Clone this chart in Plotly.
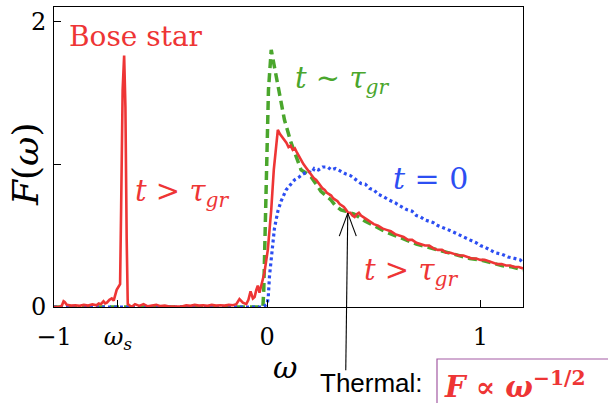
import plotly.graph_objects as go

# ---------------- data ----------------
red_w = [-1.0, -0.975, -0.963, -0.955, -0.95, -0.94, -0.92, -0.90, -0.88, -0.86, -0.84, -0.82,
         -0.80, -0.79, -0.78, -0.768, -0.76, -0.752, -0.74, -0.729, -0.72, -0.712, -0.706, -0.698,
         -0.69, -0.685, -0.678, -0.671, -0.665, -0.659, -0.654, -0.645, -0.636, -0.62, -0.60,
         -0.58, -0.56, -0.54, -0.52, -0.50, -0.48, -0.46, -0.44, -0.42, -0.40, -0.38, -0.36,
         -0.34, -0.32, -0.30, -0.28, -0.26, -0.24, -0.22, -0.20, -0.18, -0.16, -0.145, -0.13,
         -0.114, -0.098, -0.088, -0.078, -0.067, -0.059, -0.051, -0.044, -0.036, -0.028, -0.013,
         0.003, 0.019, 0.031, 0.042, 0.05, 0.06, 0.07, 0.08, 0.09, 0.10, 0.11, 0.12, 0.13, 0.14,
         0.15, 0.16, 0.17, 0.18, 0.19, 0.20, 0.21, 0.22, 0.23, 0.24, 0.25, 0.26, 0.27, 0.28, 0.29,
         0.30, 0.31, 0.32, 0.33, 0.34, 0.35, 0.36, 0.37, 0.38, 0.39, 0.40, 0.41, 0.42, 0.43, 0.44,
         0.46, 0.48, 0.50, 0.52, 0.54, 0.56, 0.58, 0.60, 0.62, 0.64, 0.66, 0.68, 0.70, 0.72, 0.74,
         0.76, 0.78, 0.80, 0.82, 0.84, 0.86, 0.88, 0.90, 0.92, 0.94, 0.96, 0.98, 1.00, 1.02, 1.04,
         1.06, 1.08, 1.10, 1.12, 1.14, 1.16, 1.18, 1.20]
red_F = [0.0, 0.0, 0.01, 0.04, 0.035, 0.015, 0.01, 0.012, 0.008, 0.015, 0.01, 0.018,
         0.012, 0.025, 0.02, 0.04, 0.025, 0.03, 0.05, 0.06, 0.045, 0.09, 0.12, 0.14,
         0.16, 0.70, 1.52, 1.76, 1.40, 0.47, 0.02, 0.01, 0.0, 0.02, 0.008,
         0.02, 0.005, 0.01, 0.015, 0.006, 0.01, 0.004, 0.003, 0.005, 0.004, 0.012, 0.008,
         0.015, 0.01, 0.012, 0.008, 0.015, 0.01, 0.012, 0.01, 0.015, 0.012, 0.02, 0.055,
         0.03, 0.02, 0.05, 0.11, 0.06, 0.07, 0.12, 0.15, 0.10, 0.15, 0.24,
         0.40, 0.68, 0.96, 1.10, 1.24, 1.21, 1.19, 1.17, 1.15, 1.12, 1.13, 1.10, 1.11, 1.08,
         1.05, 1.03, 1.00, 0.98, 0.96, 0.94, 0.92, 0.90, 0.89, 0.87, 0.85, 0.83, 0.82, 0.80, 0.79,
         0.78, 0.76, 0.75, 0.74, 0.72, 0.71, 0.70, 0.68, 0.66, 0.66, 0.64, 0.63, 0.65, 0.66, 0.64,
         0.62, 0.60, 0.58, 0.57, 0.55, 0.54, 0.53, 0.51, 0.50, 0.49, 0.47, 0.47, 0.45, 0.44, 0.43,
         0.43, 0.41, 0.40, 0.40, 0.38, 0.38, 0.37, 0.36, 0.36, 0.35, 0.34, 0.34, 0.33, 0.33, 0.32,
         0.31, 0.30, 0.30, 0.29, 0.29, 0.28, 0.28, 0.27]

green_w = [-1.0, -0.02, -0.016, -0.01, -0.005, 0.0, 0.003, 0.006, 0.019, 0.034, 0.058, 0.081,
           0.112, 0.135, 0.159, 0.18, 0.206, 0.23, 0.252, 0.275, 0.299, 0.32, 0.346, 0.37, 0.408,
           0.43, 0.46, 0.50, 0.55, 0.60, 0.65, 0.70, 0.75, 0.80, 0.85, 0.90, 0.95, 1.00, 1.05,
           1.10, 1.15, 1.20]
green_F = [0.0, 0.0, 0.12, 0.45, 0.87, 1.10, 1.17, 1.52, 1.80, 1.68, 1.47, 1.31,
           1.15, 1.05, 0.96, 0.94, 0.91, 0.86, 0.81, 0.78, 0.75, 0.71, 0.68, 0.67, 0.65,
           0.63, 0.60, 0.57, 0.53, 0.50, 0.47, 0.44, 0.42, 0.40, 0.38, 0.36, 0.34, 0.33, 0.31,
           0.29, 0.28, 0.26]

blue_w = [-1.0, -0.02, 0.0, 0.005, 0.011, 0.022, 0.034, 0.05, 0.065, 0.089, 0.11, 0.128, 0.15,
          0.167, 0.19, 0.21, 0.221, 0.24, 0.26, 0.284, 0.30, 0.32, 0.346, 0.37, 0.39, 0.408, 0.42,
          0.44, 0.46, 0.48, 0.50, 0.52, 0.548, 0.57, 0.60, 0.62, 0.657, 0.68, 0.70, 0.72, 0.74,
          0.78, 0.80, 0.82, 0.85, 0.88, 0.907, 0.93, 0.95, 0.98, 1.00, 1.02, 1.047, 1.07, 1.10,
          1.13, 1.16, 1.187, 1.20]
blue_F = [0.0, 0.0, 0.02, 0.07, 0.22, 0.38, 0.55, 0.67, 0.74, 0.82, 0.86, 0.89, 0.91,
          0.93, 0.95, 0.94, 0.97, 0.96, 0.98, 0.98, 0.96, 0.97, 0.95, 0.93, 0.92, 0.90, 0.89,
          0.865, 0.86, 0.83, 0.82, 0.79, 0.77, 0.75, 0.73, 0.71, 0.68, 0.67, 0.64, 0.63, 0.61,
          0.59, 0.57, 0.56, 0.54, 0.52, 0.50, 0.48, 0.47, 0.45, 0.43, 0.42, 0.40, 0.38, 0.37,
          0.35, 0.34, 0.33, 0.31]

x_tickvals = [-1, -0.7, 0, 1]
x_ticktext = ["\u22121", "<i>\u03c9</i><sub><i>s</i></sub>", "0", "1"]
y_tickvals = [0, 1, 2]
y_ticktext = ["0", "", "2"]
thermal_point = (0.378, 0.657)

X_RANGE = [-1, 1.2]
Y_RANGE = [0, 2.1]

RED = "#ee3535"
GREEN = "#4aa62c"
BLUE = "#2c4ef2"
SERIF = "DejaVu Serif"

# ---------------- figure ----------------
fig = go.Figure()
fig.add_trace(go.Scatter(x=green_w, y=green_F, mode="lines",
                         line=dict(color=GREEN, width=3.5, dash="9px,5px"), hoverinfo="skip"))
fig.add_trace(go.Scatter(x=blue_w, y=blue_F, mode="lines",
                         line=dict(color=BLUE, width=3.2, dash="3px,3px"), hoverinfo="skip"))
fig.add_trace(go.Scatter(x=red_w, y=red_F, mode="lines",
                         line=dict(color=RED, width=2.6), hoverinfo="skip"))

fig.update_layout(
    width=608, height=403,
    margin=dict(l=54, r=85, t=7, b=96),
    paper_bgcolor="white", plot_bgcolor="white",
    showlegend=False,
    font=dict(family=SERIF, size=24, color="black"),
    xaxis=dict(range=X_RANGE, tickvals=x_tickvals, ticktext=x_ticktext,
               ticks="inside", ticklen=7, tickcolor="black", showgrid=False, zeroline=False,
               showline=True, linecolor="black", linewidth=1, mirror=True,
               tickfont=dict(family=SERIF, size=24), ticklabelstandoff=8, automargin=False),
    yaxis=dict(range=Y_RANGE, tickvals=y_tickvals, ticktext=y_ticktext,
               ticks="inside", ticklen=7, tickcolor="black", showgrid=False, zeroline=False,
               showline=True, linecolor="black", linewidth=1, mirror=True,
               tickfont=dict(family=SERIF, size=24), ticklabelstandoff=2, automargin=False),
)

def px2paper(px, py):
    return (px - 54) / 469.0, (307 - py) / 300.0

def label(px, py, text, color, size, family=SERIF, xanchor="center"):
    x, y = px2paper(px, py)
    fig.add_annotation(x=x, y=y, xref="paper", yref="paper", text=text, showarrow=False,
                       xanchor=xanchor, yanchor="middle",
                       font=dict(family=family, size=size, color=color))

label(136, 37, "Bose star", RED, 28)
label(182, 193, "<i>t</i> > <i>\u03c4<sub>gr</sub></i>", RED, 29)
label(342, 80, "<i>t</i> ~ <i>\u03c4<sub>gr</sub></i>", GREEN, 29)
label(430, 178, "<i>t</i> = 0", BLUE, 30)
label(411, 272, "<i>t</i> > <i>\u03c4<sub>gr</sub></i>", RED, 29)
label(285, 367, "<i>\u03c9</i>", "black", 30)
label(371, 383, "Thermal:", "black", 26, family="Liberation Sans")
label(442, 385, "<b><i>F</i> \u221d <i>\u03c9</i><sup>\u22121/2</sup></b>", RED, 29, xanchor="left")

# y-axis title
fx, fy = px2paper(26, 165)
fig.add_annotation(x=fx, y=fy, xref="paper", yref="paper", text="<i>F</i>(<i>\u03c9</i>)",
                   showarrow=False, textangle=-90, xanchor="center", yanchor="middle",
                   font=dict(family=SERIF, size=36, color="black"))

# box around formula
bx0, by0 = px2paper(437, 359)
bx1, by1 = px2paper(620, 415)
fig.add_shape(type="rect", xref="paper", yref="paper", x0=bx0, y0=by0, x1=bx1, y1=by1,
              line=dict(color="#a35aa3", width=1.2), fillcolor="rgba(0,0,0,0)")

# thermal arrow (shaft + open head), anchored at the data point (paper ref -> not clipped)
tx, ty = thermal_point
ax_p = (tx - X_RANGE[0]) / (X_RANGE[1] - X_RANGE[0])
ay_p = (ty - Y_RANGE[0]) / (Y_RANGE[1] - Y_RANGE[0])
for (x0, y0, x1, y1) in [(0, 0, -2, -157), (0, 0, -8.5, -23), (0, 0, 8.5, -23)]:
    fig.add_shape(type="line", xref="paper", yref="paper", xsizemode="pixel", ysizemode="pixel",
                  xanchor=ax_p, yanchor=ay_p, x0=x0, y0=y0, x1=x1, y1=y1,
                  line=dict(color="black", width=1.1))

fig.write_html("out.html", config={"displayModeBar": False},
               post_script="document.body.style.margin='0px';document.body.style.overflow='hidden';")
